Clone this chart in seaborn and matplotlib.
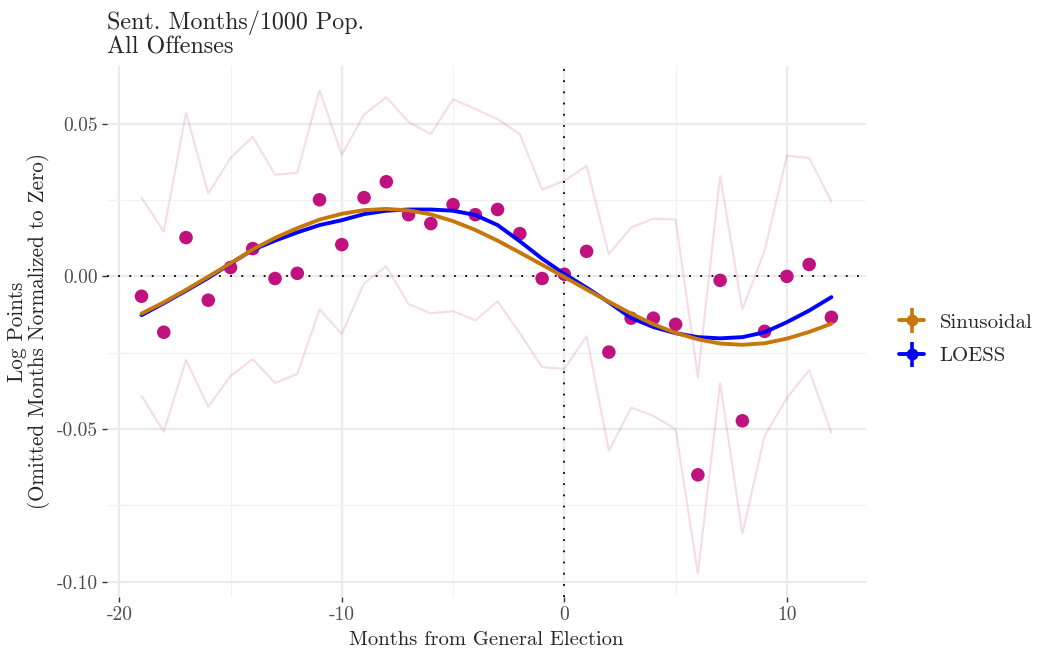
import numpy as np
import pandas as pd
import matplotlib
matplotlib.use("Agg")
import matplotlib.pyplot as plt
from matplotlib.lines import Line2D
from matplotlib.legend_handler import HandlerTuple
from matplotlib.ticker import FixedLocator
import seaborn as sns

# Months relative to the general election
months = list(range(-19, 13))

# Point estimates (log points, omitted months normalized to zero)
estimate = [-0.0065, -0.0183, 0.0127, -0.0078, 0.0029, 0.0091, -0.0007, 0.0010,
            0.0251, 0.0104, 0.0258, 0.0310, 0.0202, 0.0173, 0.0235, 0.0202,
            0.0219, 0.0140, -0.0007, 0.0007, 0.0082, -0.0248, -0.0137, -0.0137,
            -0.0157, -0.0650, -0.0013, -0.0473, -0.0180, 0.0000, 0.0039, -0.0134]

# Upper and lower confidence bounds
ci_upper = [0.0258, 0.0147, 0.0536, 0.0271, 0.0388, 0.0457, 0.0333, 0.0339,
            0.0610, 0.0398, 0.0530, 0.0587, 0.0506, 0.0466, 0.0580, 0.0548,
            0.0515, 0.0466, 0.0284, 0.0313, 0.0362, 0.0072, 0.0160, 0.0189,
            0.0186, -0.0330, 0.0329, -0.0108, 0.0085, 0.0395, 0.0388, 0.0245]
ci_lower = [-0.0391, -0.0509, -0.0274, -0.0427, -0.0326, -0.0271, -0.0349, -0.0320,
            -0.0108, -0.0189, -0.0023, 0.0033, -0.0091, -0.0121, -0.0114, -0.0144,
            -0.0082, -0.0186, -0.0297, -0.0303, -0.0196, -0.0571, -0.0430, -0.0457,
            -0.0500, -0.0973, -0.0349, -0.0843, -0.0522, -0.0398, -0.0307, -0.0512]

# Fitted curves
sinusoidal = [-0.0122, -0.0085, -0.0044, -0.0001, 0.0043, 0.0088, 0.0126, 0.0158,
              0.0186, 0.0205, 0.0217, 0.0221, 0.0216, 0.0203, 0.0181, 0.0152,
              0.0117, 0.0078, 0.0038, -0.0002, -0.0043, -0.0083, -0.0122, -0.0157,
              -0.0185, -0.0206, -0.0220, -0.0224, -0.0219, -0.0204, -0.0182, -0.0155]
loess = [-0.0127, -0.0088, -0.0047, -0.0005, 0.0042, 0.0087, 0.0117, 0.0144,
         0.0168, 0.0184, 0.0204, 0.0215, 0.0219, 0.0219, 0.0215, 0.0201,
         0.0168, 0.0115, 0.0058, 0.0008, -0.0037, -0.0085, -0.0136, -0.0166,
         -0.0186, -0.0199, -0.0203, -0.0199, -0.0183, -0.0150, -0.0112, -0.0068]

df = pd.DataFrame({"month": months, "estimate": estimate, "upper": ci_upper,
                   "lower": ci_lower, "Sinusoidal": sinusoidal, "LOESS": loess})

sns.set_theme(style="white")
plt.rcParams["font.family"] = ["cmr10", "DejaVu Serif"]
plt.rcParams["mathtext.fontset"] = "cm"
plt.rcParams["axes.unicode_minus"] = False
plt.rcParams["axes.formatter.use_mathtext"] = False

POINT = "#C0117F"
ORANGE = "#C8780A"
BLUE = "#0000FF"

fig = plt.figure(figsize=(10.42, 6.51), dpi=100)
ax = fig.add_axes([0.1027, 0.083, 0.7283, 0.8156])

# Confidence bounds
sns.lineplot(data=df, x="month", y="upper", ax=ax, color=POINT, alpha=0.15, lw=1.5, zorder=2)
sns.lineplot(data=df, x="month", y="lower", ax=ax, color=POINT, alpha=0.15, lw=1.5, zorder=2)

# Reference lines
ax.axhline(0, color="black", lw=1.3, ls=(0, (1, 5.2)), zorder=3)
ax.axvline(0, color="black", lw=1.3, ls=(0, (1, 5.2)), zorder=3)

# Point estimates
sns.scatterplot(data=df, x="month", y="estimate", ax=ax, color=POINT, s=95,
                edgecolor="none", zorder=4)

# Fitted curves
sns.lineplot(data=df, x="month", y="LOESS", ax=ax, color=BLUE, lw=2.8, zorder=5)
sns.lineplot(data=df, x="month", y="Sinusoidal", ax=ax, color=ORANGE, lw=2.8, zorder=6)

ax.set_xlim(-20.55, 13.55)
ax.set_ylim(-0.105, 0.0689)

ax.xaxis.set_major_locator(FixedLocator([-20, -10, 0, 10]))
ax.xaxis.set_minor_locator(FixedLocator([-15, -5, 5]))
ax.yaxis.set_major_locator(FixedLocator([-0.10, -0.05, 0.0, 0.05]))
ax.yaxis.set_minor_locator(FixedLocator([-0.075, -0.025, 0.025]))
ax.set_xticklabels(["-20", "-10", "0", "10"])
ax.set_yticklabels(["-0.10", "-0.05", "0.00", "0.05"])

ax.grid(which="major", color="#EBEBEB", lw=1.6, zorder=0)
ax.grid(which="minor", color="#F2F2F2", lw=0.9, zorder=0)
ax.set_axisbelow(True)
for s in ax.spines.values():
    s.set_visible(False)

ax.tick_params(axis="both", which="major", length=3.5, width=1.0, color="#333333",
               labelsize=14, labelcolor="#4D4D4D", pad=3, bottom=True, left=True)
ax.tick_params(axis="both", which="minor", length=0)

ax.set_xlabel("Months from General Election", fontsize=14.8, labelpad=5)
ax.set_ylabel("Log Points\n(Omitted Months Normalized to Zero)", fontsize=15.2,
              labelpad=5, linespacing=1.0)
ax.set_title("Sent. Months/1000 Pop.\nAll Offenses", loc="left", fontsize=17.3,
             pad=9, linespacing=1.1)

handles = [
    (Line2D([], [], color=ORANGE, lw=2.8, marker="o", ms=8.5, mec="none"),
     Line2D([], [], color=ORANGE, ls="none", marker="|", ms=18, mew=2.6)),
    (Line2D([], [], color=BLUE, lw=2.8, marker="o", ms=8.5, mec="none"),
     Line2D([], [], color=BLUE, ls="none", marker="|", ms=18, mew=2.6)),
]
fig.legend(handles, ["Sinusoidal", "LOESS"], handler_map={tuple: HandlerTuple(ndivide=1)},
           loc="center left", bbox_to_anchor=(0.845, 0.479), frameon=False,
           fontsize=15, handlelength=1.2, handletextpad=0.75, labelspacing=0.72)

fig.savefig("out.png", dpi=100)
